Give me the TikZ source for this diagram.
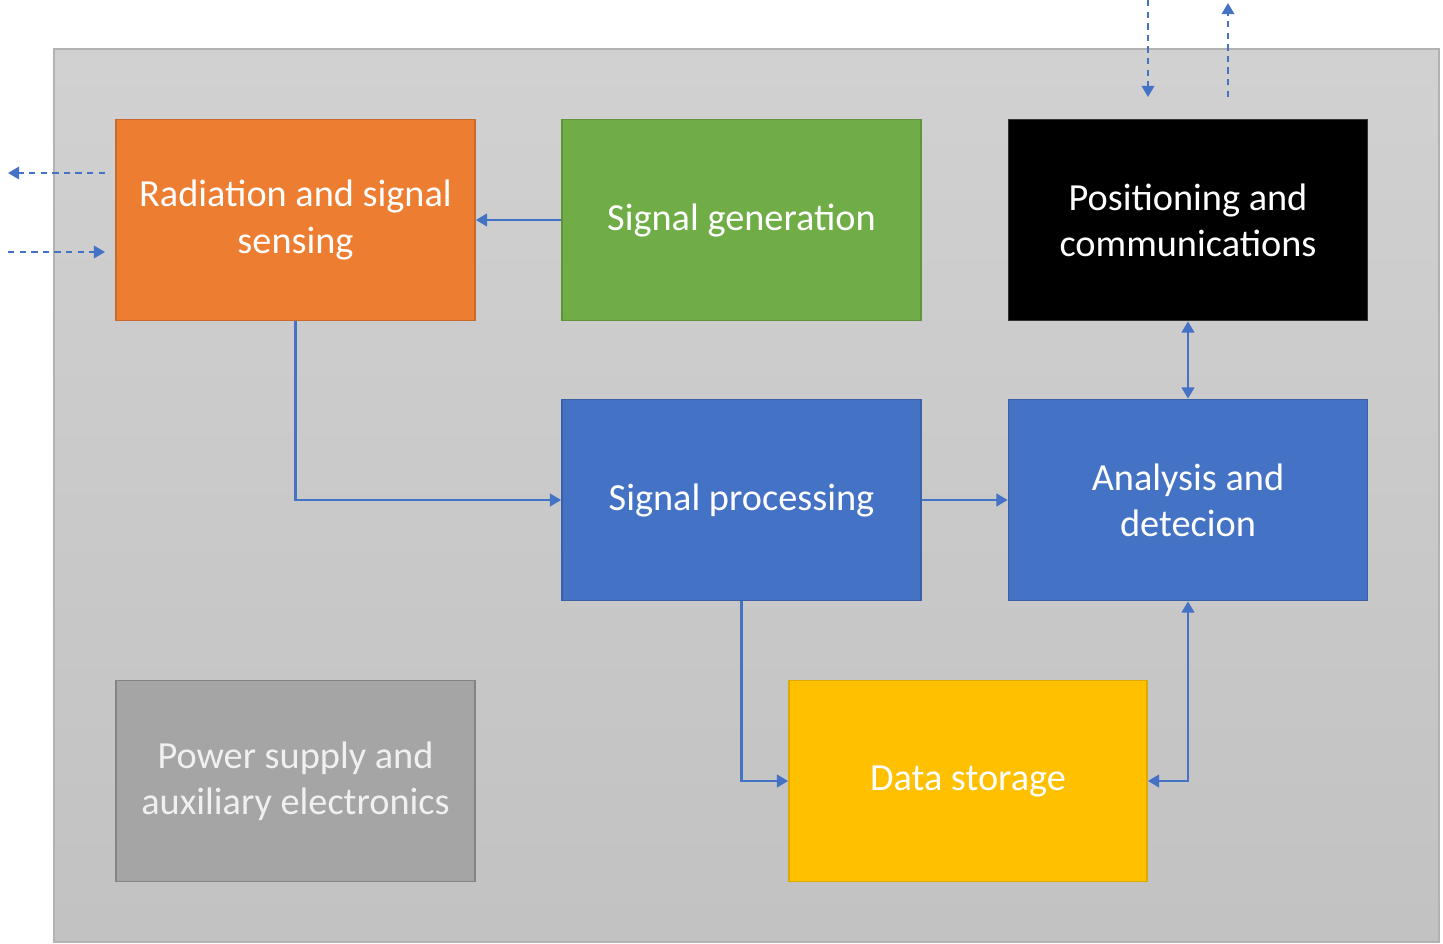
\documentclass[tikz,border=0pt]{standalone}
\usepackage{fontspec}
\setmainfont{Carlito}
\usepackage{xcolor}
\usetikzlibrary{positioning, arrows.meta, calc}

\definecolor{radOrange}{HTML}{ED7D31}
\definecolor{genGreen}{HTML}{70AD47}
\definecolor{procBlue}{HTML}{4472C4}
\definecolor{storeGold}{HTML}{FFC000}
\definecolor{pwrGray}{HTML}{A5A5A5}
\definecolor{linkBlue}{HTML}{4472C4}

\begin{document}
\begin{tikzpicture}[
    block/.style={draw, minimum width=3.59cm, minimum height=2.01cm,
                  align=center, text=white, line width=0.5pt,
                  font=\fontsize{10.9}{13.1}\selectfont},
    arrow/.style={-{Triangle[length=3.2pt, width=3.6pt]}, draw=linkBlue, line width=0.6pt},
    twoway/.style={{Triangle[length=3.2pt, width=3.6pt]}-{Triangle[length=3.2pt, width=3.6pt]},
                  draw=linkBlue, line width=0.6pt},
    ext/.style={arrow, dash pattern=on 1.8pt off 1.5pt},
]
\useasboundingbox (0, 0) rectangle (14.43, -9.44);

% Housing
\shade[top color=black!18, bottom color=black!24, draw=black!30, line width=0.5pt]
    (0.54, -0.49) rectangle (14.39, -9.42);

% Blocks
\node[block, fill=radOrange, draw=radOrange!85!black] (rad) at (2.955, -2.2)
    {Radiation and signal\\sensing};
\node[block, fill=genGreen, draw=genGreen!85!black] (gen) at (7.415, -2.2)
    {Signal generation};
\node[block, fill=black, draw=black!80] (pos) at (11.88, -2.2)
    {Positioning and\\communications};
\node[block, fill=procBlue, draw=procBlue!85!black] (proc) at (7.415, -5.0)
    {Signal processing};
\node[block, fill=procBlue, draw=procBlue!85!black] (ana) at (11.88, -5.0)
    {Analysis and\\detecion};
\node[block, fill=storeGold, draw=storeGold!88!black, minimum width=3.58cm] (store)
    at (9.68, -7.81) {Data storage};
\node[block, fill=pwrGray, draw=pwrGray!80!black, text=white!94!black] (pwr)
    at (2.955, -7.81) {Power supply and\\auxiliary electronics};

% Internal links
\draw[arrow] (gen.west) -- (rad.east);
\draw[arrow] (rad.south) |- (proc.west);
\draw[arrow] (proc.east) -- (ana.west);
\draw[twoway] (ana.north) -- (pos.south);
\draw[arrow] (proc.south) |- (store.west);
\draw[twoway] (store.east) -| (ana.south);

% External links
\coordinate (txOut) at (0.08, -1.73);
\coordinate (txSrc) at (1.05, -1.73);
\coordinate (rxSrc) at (0.08, -2.52);
\coordinate (rxIn) at (1.05, -2.52);
\coordinate (dlSrc) at (11.48, 0);
\coordinate (dlIn) at (11.48, -0.97);
\coordinate (ulSrc) at (12.28, -0.97);
\coordinate (ulOut) at (12.28, -0.03);

\draw[ext] (txSrc) -- (txOut);
\draw[ext] (rxSrc) -- (rxIn);
\draw[ext] (dlSrc) -- (dlIn);
\draw[ext] (ulSrc) -- (ulOut);
\end{tikzpicture}
\end{document}
